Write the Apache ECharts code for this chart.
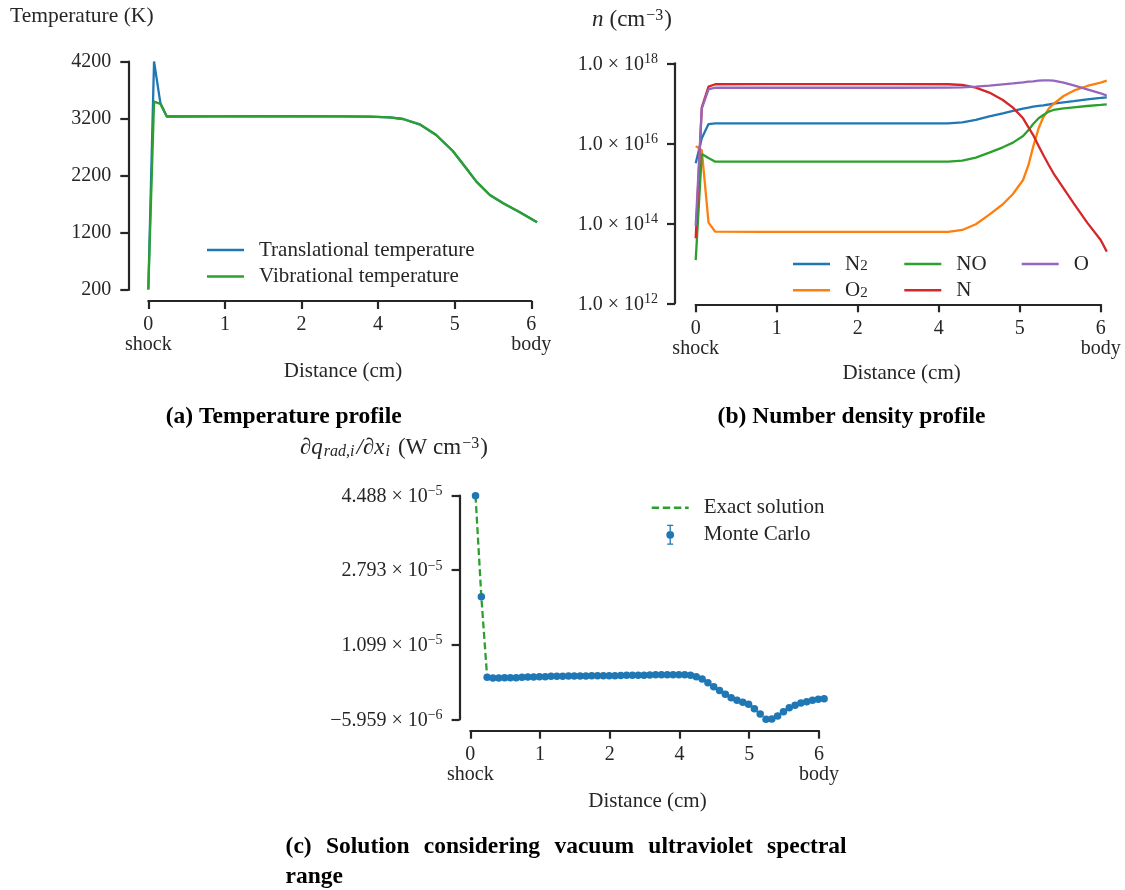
<!DOCTYPE html>
<html><head><meta charset="utf-8">
<script src="https://cdn.jsdelivr.net/npm/echarts@6/dist/echarts.min.js"></script>
<style>html,body{margin:0;padding:0;background:#fff}#c{width:1125px;height:890px}</style>
</head><body><div id="c"></div>
<script>
// ---------------- data ----------------
const X_TICKS = [0, 1.2, 2.4, 3.6, 4.8, 6.0];
const X_TICK_LABELS = ['0', '1', '2', '4', '5', '6'];
const X_END_LABELS = ['shock', 'body'];
const TEMP_TICKS = [200, 1200, 2200, 3200, 4200];
const DENS_TICKS = [1e12, 1e14, 1e16, 0.999999e18];
const DIV_TICKS = [-5.959e-6, 1.099e-5, 2.793e-5, 4.488e-5];
const DIV_TICK_MANTISSA = ['\u22125.959', '1.099', '2.793', '4.488'];
const DIV_TICK_EXP = ['\u22126', '\u22125', '\u22125', '\u22125'];

// (a) temperature profile
const A_X = [0, 0.09, 0.19, 0.29, 1.0, 2.0, 3.0, 3.47, 3.78, 3.99, 4.25, 4.51, 4.77, 4.98, 5.14, 5.35, 5.56, 5.82, 6.09];
const T_TRANS = [210, 4205, 3470, 3240, 3243, 3245, 3243, 3236, 3226, 3196, 3103, 2916, 2636, 2332, 2098, 1865, 1719, 1562, 1388];
const T_VIB   = [210, 3500, 3460, 3240, 3243, 3245, 3243, 3236, 3226, 3196, 3103, 2916, 2636, 2332, 2098, 1865, 1719, 1562, 1388];

// (b) number density profile (cm^-3)
const B_X = [0, 0.09, 0.19, 0.29, 1.0, 2.0, 3.0, 3.74, 3.95, 4.15, 4.35, 4.55, 4.7, 4.85, 4.93, 5.0, 5.08, 5.15, 5.23, 5.3, 5.45, 5.6, 5.8, 6.0, 6.09];
const N_N2 = [3.16e15, 1.33e16, 3.02e16, 3.16e16, 3.16e16, 3.16e16, 3.16e16, 3.16e16, 3.35e16, 3.83e16, 4.73e16, 5.62e16, 6.43e16, 7.36e16, 7.76e16, 8.26e16, 8.61e16, 8.91e16, 9.33e16, 9.77e16, 1.06e17, 1.14e17, 1.26e17, 1.36e17, 1.41e17];
const N_O2 = [8.51e15, 6.76e15, 1.04e14, 6.17e13, 6.10e13, 6.10e13, 6.10e13, 6.07e13, 6.81e13, 9.44e13, 1.65e14, 2.99e14, 5.41e14, 1.21e15, 2.87e15, 8.26e15, 2.37e16, 4.47e16, 7.36e16, 9.62e16, 1.52e17, 2.07e17, 2.71e17, 3.29e17, 3.69e17];
const N_NO = [1.20e13, 5.37e15, 4.27e15, 3.47e15, 3.47e15, 3.47e15, 3.47e15, 3.48e15, 3.69e15, 4.39e15, 5.85e15, 7.94e15, 1.04e16, 1.52e16, 2.15e16, 3.04e16, 4.22e16, 5.11e16, 6.19e16, 6.81e16, 7.50e16, 7.94e16, 8.57e16, 9.08e16, 9.44e16];
const N_N  = [4.22e13, 7.94e16, 2.60e17, 2.99e17, 3.01e17, 3.02e17, 3.01e17, 2.99e17, 2.87e17, 2.47e17, 1.85e17, 1.21e17, 7.80e16, 4.22e16, 2.51e16, 1.61e16, 8.57e15, 5.11e15, 2.87e15, 1.78e15, 7.50e14, 3.16e14, 1.04e14, 3.83e13, 1.96e13];
const N_O  = [8.71e13, 7.41e16, 2.24e17, 2.45e17, 2.45e17, 2.45e17, 2.45e17, 2.47e17, 2.51e17, 2.61e17, 2.77e17, 2.99e17, 3.16e17, 3.35e17, 3.48e17, 3.55e17, 3.69e17, 3.76e17, 3.76e17, 3.69e17, 3.29e17, 2.82e17, 2.24e17, 1.78e17, 1.56e17];

// (c) divergence of radiative heat flux (W cm^-3)
const C_X = [0.09, 0.19, 0.29, 0.39, 0.49, 0.59, 0.69, 0.79, 0.89, 0.99,
  1.09, 1.19, 1.29, 1.39, 1.49, 1.59, 1.69, 1.79, 1.89, 1.99,
  2.09, 2.19, 2.29, 2.39, 2.49, 2.59, 2.69, 2.79, 2.89, 2.99,
  3.09, 3.19, 3.29, 3.39, 3.49, 3.59, 3.69, 3.79, 3.89, 3.99,
  4.09, 4.19, 4.29, 4.39, 4.49, 4.59, 4.69, 4.79, 4.89, 4.99,
  5.09, 5.19, 5.29, 5.39, 5.49, 5.59, 5.69, 5.79, 5.89, 5.99, 6.09];
const C_MC = [4.488e-5, 2.19e-5, 3.59e-6, 3.43e-6, 3.43e-6, 3.50e-6, 3.50e-6, 3.50e-6, 3.59e-6, 3.66e-6,
  3.66e-6, 3.73e-6, 3.73e-6, 3.81e-6, 3.81e-6, 3.81e-6, 3.88e-6, 3.88e-6, 3.88e-6, 3.88e-6,
  3.95e-6, 3.95e-6, 3.95e-6, 3.95e-6, 3.95e-6, 4.00e-6, 4.04e-6, 4.04e-6, 4.04e-6, 4.08e-6,
  4.11e-6, 4.15e-6, 4.18e-6, 4.18e-6, 4.18e-6, 4.18e-6, 4.18e-6, 4.04e-6, 3.73e-6, 3.20e-6,
  2.36e-6, 1.45e-6, 0.59e-6, -0.28e-6, -1.05e-6, -1.64e-6, -2.10e-6, -2.55e-6, -3.55e-6, -4.76e-6,
  -5.959e-6, -5.90e-6, -5.21e-6, -4.23e-6, -3.32e-6, -2.78e-6, -2.25e-6, -1.96e-6, -1.64e-6, -1.41e-6, -1.28e-6];
const C_EXACT = C_MC; // exact solution coincides with the Monte Carlo points at this scale

// ---------------- style ----------------
const FONT = "'Liberation Serif', 'DejaVu Serif', serif";
const INK = '#262626';
const C_BLUE = '#1f77b4', C_ORANGE = '#ff7f0e', C_GREEN = '#2ca02c', C_RED = '#d62728', C_PURPLE = '#9467bd';
const FS = 20;   // tick labels
const FW = 21;   // words (axis names, legends)
const LW = 2.3;  // data line width

const pair = (xs, ys) => xs.map((x, i) => [x, ys[i]]);
const nearest = (arr, v) => { let b = 0; arr.forEach((t, i) => { if (Math.abs(t - v) < Math.abs(arr[b] - v)) b = i; }); return b; };
const xLabel = v => {
  const i = nearest(X_TICKS, v);
  let s = X_TICK_LABELS[i];
  if (i === 0) s += '\n' + X_END_LABELS[0];
  if (i === X_TICKS.length - 1) s += '\n' + X_END_LABELS[1];
  return s;
};
const supRich = {
  m: { fontFamily: FONT, fontSize: FS, color: INK, lineHeight: 22, verticalAlign: 'bottom' },
  s: { fontFamily: FONT, fontSize: 14, color: INK, lineHeight: 12, verticalAlign: 'top' }
};
const axLine = { show: true, onZero: false, lineStyle: { color: INK, width: 2.2 } };
const axTick = vals => ({ show: true, length: 8, customValues: vals, lineStyle: { color: INK, width: 2.2 } });
const labelBase = { fontFamily: FONT, fontSize: FS, color: INK };

function displayX(grid, off) {
  return { gridIndex: grid, type: 'value', min: 0, max: 6, offset: off,
    axisLine: axLine, axisTick: axTick(X_TICKS), splitLine: { show: false },
    axisLabel: Object.assign({}, labelBase, { customValues: X_TICKS, formatter: xLabel, margin: 14, lineHeight: 20 }) };
}
function dataX(grid, gap) {
  return { gridIndex: grid, type: 'value', min: 0, max: 6.1,
    axisLine: { show: false, onZero: false }, axisTick: { show: false }, axisLabel: { show: false }, splitLine: { show: false },
    name: 'Distance (cm)', nameLocation: 'middle', nameGap: gap,
    nameTextStyle: { fontFamily: FONT, fontSize: FW, color: INK, lineHeight: 20 } };
}

const grids = [
  { left: 148.3, top: 61.7, width: 383, height: 228.3 },
  { left: 148.3, top: 61.7, width: 389.4, height: 228.3 },
  { left: 695.7, top: 63.3, width: 405, height: 240 },
  { left: 695.7, top: 63.3, width: 411.75, height: 240 },
  { left: 470.3, top: 495.7, width: 348.6, height: 223.6 },
  { left: 470.3, top: 495.7, width: 354.4, height: 223.6 }
].map(g => Object.assign({ outerBoundsMode: 'none', containLabel: false }, g));

const xAxes = [
  displayX(0, 11), dataX(1, 71),
  displayX(2, 1), dataX(3, 60),
  displayX(4, 11.4), dataX(5, 72)
];

const yAxes = [
  { gridIndex: 0, type: 'value', min: 200, max: 4200, offset: 20,
    axisLine: axLine, axisTick: axTick(TEMP_TICKS), splitLine: { show: false },
    axisLabel: Object.assign({}, labelBase, { customValues: TEMP_TICKS, margin: 17, formatter: v => String(TEMP_TICKS[nearest(TEMP_TICKS, v)]) }) },
  { gridIndex: 1, type: 'value', min: 200, max: 4200, show: false },
  { gridIndex: 2, type: 'log', logBase: 10, min: 1e12, max: 1e18, offset: 20.7,
    axisLine: axLine, axisTick: axTick(DENS_TICKS), splitLine: { show: false }, minorTick: { show: false },
    axisLabel: { customValues: DENS_TICKS, margin: 17, rich: supRich,
      formatter: v => '{m|1.0 \u00d7 10}{s|' + Math.round(Math.log10(v)) + '}' } },
  { gridIndex: 3, type: 'log', logBase: 10, min: 1e12, max: 1e18, show: false },
  { gridIndex: 4, type: 'value', min: DIV_TICKS[0], max: DIV_TICKS[3], offset: 10.7,
    axisLine: axLine, axisTick: axTick(DIV_TICKS), splitLine: { show: false },
    axisLabel: { customValues: DIV_TICKS, margin: 17, rich: supRich,
      formatter: v => { const i = nearest(DIV_TICKS, v); return '{m|' + DIV_TICK_MANTISSA[i] + ' \u00d7 10}{s|' + DIV_TICK_EXP[i] + '}'; } } },
  { gridIndex: 5, type: 'value', min: DIV_TICKS[0], max: DIV_TICKS[3], show: false }
];

const lineSeries = (name, xs, ys, color, xi, extra) => Object.assign({
  name, type: 'line', xAxisIndex: xi, yAxisIndex: xi, data: pair(xs, ys), symbol: 'none',
  lineStyle: { color, width: LW }, itemStyle: { color }, clip: false, animation: false, z: 2
}, extra || {});

const series = [
  lineSeries('Translational temperature', A_X, T_TRANS, C_BLUE, 1),
  lineSeries('Vibrational temperature', A_X, T_VIB, C_GREEN, 1),
  lineSeries('N2', B_X, N_N2, C_BLUE, 3),
  lineSeries('O2', B_X, N_O2, C_ORANGE, 3),
  lineSeries('NO', B_X, N_NO, C_GREEN, 3),
  lineSeries('N', B_X, N_N, C_RED, 3),
  lineSeries('O', B_X, N_O, C_PURPLE, 3),
  lineSeries('Exact solution', C_X, C_EXACT, C_GREEN, 5, { lineStyle: { color: C_GREEN, width: LW, type: [7, 3.5] }, z: 2 }),
  { name: 'Monte Carlo', type: 'scatter', xAxisIndex: 5, yAxisIndex: 5, data: pair(C_X, C_MC), z: 5,
    symbol: 'circle', symbolSize: 7.5, itemStyle: { color: C_BLUE, opacity: 1 }, clip: false, animation: false }
];

const legText = { fontFamily: FONT, fontSize: FW, color: INK, padding: [0, 0, 0, 10],
  rich: {
    t: { fontFamily: FONT, fontSize: FW, color: INK, lineHeight: 20, verticalAlign: 'top' },
    b: { fontFamily: FONT, fontSize: 15, color: INK, lineHeight: 12, verticalAlign: 'bottom' }
  } };
const subFmt = name => { const m = name.match(/^([A-Z]+)(\d)$/); return m ? '{t|' + m[1] + '}{b|' + m[2] + '}' : '{t|' + name + '}'; };
const LINE_ICON = 'path://M0,0H37V2.5H0Z';
const DASH_ICON = 'path://M0,0H7.4V2.5H0Z M11.1,0H18.5V2.5H11.1Z M22.2,0H29.6V2.5H22.2Z M33.3,0H37V2.5H33.3Z';
const MC_ICON = 'path://M1,0H7V1.3H1Z M3.35,0H4.65V20H3.35Z M1,18.7H7V20H1Z M4,6.1A3.9,3.9,0,1,1,4,13.9A3.9,3.9,0,1,1,4,6.1Z';
const legendBase = { orient: 'vertical', itemWidth: 37, itemHeight: 20, selectedMode: false, padding: 0, textStyle: legText, icon: LINE_ICON };

const legends = [
  Object.assign({}, legendBase, { left: 207, top: 239.5, itemGap: 5.5, data: ['Translational temperature', 'Vibrational temperature'] }),
  Object.assign({}, legendBase, { left: 793, top: 254, itemGap: 5.3, formatter: subFmt, data: ['N2', 'O2'] }),
  Object.assign({}, legendBase, { left: 904.3, top: 254, itemGap: 5.3, formatter: subFmt, data: ['NO', 'N'] }),
  Object.assign({}, legendBase, { left: 1021.7, top: 254, itemGap: 5.3, formatter: subFmt, data: ['O'] }),
  Object.assign({}, legendBase, { left: 651.7, top: 497.3, itemGap: 6,
    data: [{ name: 'Exact solution', icon: DASH_ICON }, { name: 'Monte Carlo', icon: MC_ICON }] })
];

const mathRich = {
  i: { fontFamily: FONT, fontSize: 23, fontStyle: 'italic', fontWeight: 'normal', color: INK, lineHeight: 24 },
  n: { fontFamily: FONT, fontSize: 23, fontWeight: 'normal', color: INK, lineHeight: 24 },
  w: { fontFamily: FONT, fontSize: 23, fontWeight: 'normal', color: INK, lineHeight: 24, padding: [0, 0, 0, 6] },
  s: { fontFamily: FONT, fontSize: 16, fontWeight: 'normal', color: INK, lineHeight: 14, verticalAlign: 'top', padding: [0, 1, 0, 1] },
  b: { fontFamily: FONT, fontSize: 16, fontStyle: 'italic', fontWeight: 'normal', color: INK, lineHeight: 14, verticalAlign: 'bottom', padding: [0, 2, 0, 1] }
};
const capStyle = { fontFamily: FONT, fontSize: 23.5, fontWeight: 'bold', color: '#000', lineHeight: 24 };
const CAPTION_C = ['(c)', 'Solution', 'considering', 'vacuum', 'ultraviolet', 'spectral'];

const titles = [
  { text: 'Temperature (K)', left: 10, top: 6.7, padding: 0,
    textStyle: { fontFamily: FONT, fontSize: 21.5, fontWeight: 'normal', color: INK, lineHeight: 20 } },
  { text: '{i|n}{w|(cm}{s|\u22123}{n|)}', left: 592, top: 8, padding: 0, textStyle: { fontWeight: 'normal', rich: mathRich } },
  { text: '{i|\u2202q}{b|rad,i}{i|/\u2202x}{b|i}{w|(W cm}{s|\u22123}{n|)}', left: 300, top: 436, padding: 0, textStyle: { fontWeight: 'normal', rich: mathRich } },
  { text: '(a) Temperature profile', left: 283.7, top: 404.7, padding: 0, textAlign: 'center', textStyle: capStyle },
  { text: '(b) Number density profile', left: 851.5, top: 404.7, padding: 0, textAlign: 'center', textStyle: capStyle },
  { text: CAPTION_C.map(w => '{w|' + w + '}').join('{g|\u00a0}'), left: 285.6, top: 834.7, padding: 0,
    textStyle: { rich: { w: capStyle, g: Object.assign({}, capStyle, { width: 14.3 }) } } },
  { text: 'range', left: 285.6, top: 864.7, padding: 0, textStyle: capStyle }
];

const chart = echarts.init(document.getElementById('c'), null, { renderer: 'canvas' });
chart.setOption({
  backgroundColor: '#ffffff',
  animation: false,
  title: titles,
  grid: grids,
  xAxis: xAxes,
  yAxis: yAxes,
  legend: legends,
  series: series
});
</script></body></html>
